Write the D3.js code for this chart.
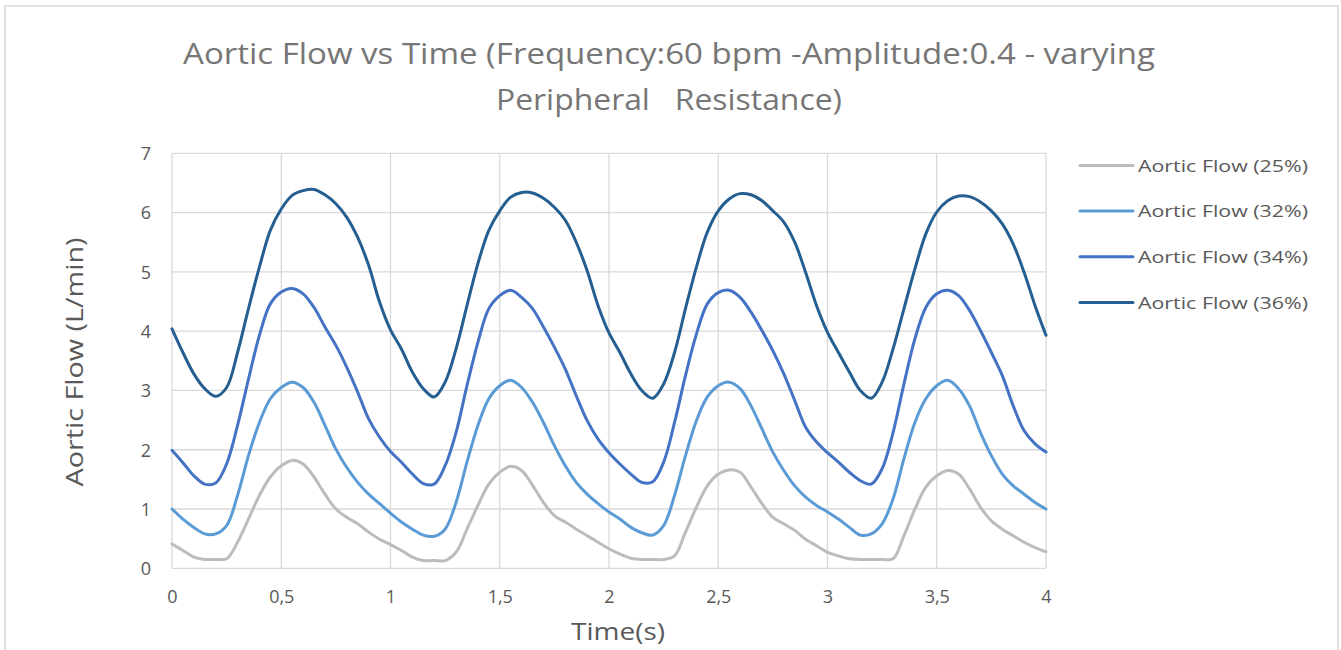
<!DOCTYPE html>
<html>
<head>
<meta charset="utf-8">
<script src="https://cdn.jsdelivr.net/npm/d3@7"></script>
<style>
  html, body { margin: 0; padding: 0; background: #ffffff; }
  svg { display: block; }
  text { font-family: "Open Sans", "Noto Sans", sans-serif; }
</style>
</head>
<body>
<div id="chart"></div>
<script>
// Sample times (s)
const time = [
  0.00,0.05,0.10,0.15,0.20,0.25,0.30,0.35,0.40,0.45,0.50,0.55,0.60,0.65,0.70,0.75,0.80,0.85,0.90,0.95,
  1.00,1.05,1.10,1.15,1.20,1.25,1.30,1.35,1.40,1.45,1.50,1.55,1.60,1.65,1.70,1.75,1.80,1.85,1.90,1.95,
  2.00,2.05,2.10,2.15,2.20,2.25,2.30,2.35,2.40,2.45,2.50,2.55,2.60,2.65,2.70,2.75,2.80,2.85,2.90,2.95,
  3.00,3.05,3.10,3.15,3.20,3.25,3.30,3.35,3.40,3.45,3.50,3.55,3.60,3.65,3.70,3.75,3.80,3.85,3.90,3.95,
  4.00
];

// Aortic flow (L/min) for each peripheral resistance setting
const flow25 = [
  0.41,0.30,0.19,0.15,0.15,0.16,0.44,0.83,1.23,1.54,1.73,1.82,1.76,1.54,1.25,1.00,0.86,0.75,0.61,0.49,
  0.40,0.30,0.19,0.13,0.13,0.13,0.27,0.66,1.06,1.42,1.62,1.72,1.65,1.40,1.11,0.89,0.78,0.66,0.55,0.44,
  0.33,0.24,0.17,0.15,0.15,0.15,0.21,0.61,1.03,1.39,1.59,1.66,1.62,1.37,1.09,0.86,0.75,0.64,0.49,0.38,
  0.27,0.21,0.16,0.15,0.15,0.15,0.16,0.55,1.00,1.37,1.56,1.65,1.59,1.34,1.03,0.80,0.66,0.55,0.44,0.35,
  0.28
];
const flow32 = [
  1.00,0.83,0.69,0.58,0.58,0.72,1.23,1.90,2.46,2.86,3.05,3.14,3.05,2.80,2.41,2.01,1.70,1.45,1.25,1.09,
  0.93,0.78,0.66,0.56,0.54,0.66,1.11,1.79,2.41,2.86,3.08,3.17,3.05,2.80,2.46,2.07,1.73,1.45,1.25,1.09,
  0.95,0.83,0.69,0.60,0.56,0.72,1.23,1.90,2.49,2.89,3.08,3.14,3.03,2.74,2.35,1.96,1.65,1.39,1.20,1.06,
  0.95,0.83,0.69,0.56,0.58,0.75,1.17,1.85,2.46,2.86,3.08,3.17,3.03,2.74,2.29,1.90,1.59,1.39,1.25,1.11,
  1.00
];
const flow34 = [
  1.99,1.78,1.56,1.42,1.44,1.76,2.41,3.19,3.93,4.46,4.66,4.72,4.63,4.40,4.07,3.76,3.39,2.97,2.52,2.21,
  1.97,1.79,1.59,1.43,1.42,1.73,2.29,3.08,3.81,4.38,4.60,4.69,4.57,4.38,4.07,3.73,3.36,2.91,2.49,2.18,
  1.95,1.76,1.59,1.45,1.46,1.79,2.46,3.25,3.95,4.46,4.65,4.69,4.57,4.32,4.01,3.67,3.28,2.83,2.38,2.13,
  1.95,1.79,1.62,1.48,1.42,1.68,2.29,3.11,3.87,4.40,4.63,4.69,4.60,4.35,4.01,3.64,3.25,2.74,2.32,2.10,
  1.96
];
const flow36 = [
  4.04,3.64,3.28,3.03,2.90,3.05,3.64,4.38,5.08,5.70,6.06,6.29,6.37,6.39,6.30,6.15,5.92,5.58,5.11,4.49,
  4.02,3.70,3.31,3.03,2.89,3.14,3.70,4.43,5.14,5.70,6.03,6.26,6.34,6.33,6.24,6.09,5.87,5.50,5.02,4.43,
  3.97,3.64,3.28,3.00,2.87,3.11,3.64,4.38,5.08,5.67,6.03,6.23,6.32,6.30,6.20,6.03,5.84,5.50,4.99,4.43,
  3.98,3.64,3.31,3.00,2.87,3.14,3.70,4.38,5.05,5.64,6.01,6.20,6.28,6.27,6.18,6.03,5.81,5.47,4.99,4.43,
  3.93
];

const seriesNames = ["Aortic Flow (25%)", "Aortic Flow (32%)", "Aortic Flow (34%)", "Aortic Flow (36%)"];
const seriesValues = [flow25, flow32, flow34, flow36];
const seriesColors = ["#bcbcbc", "#5b9bd5", "#4472c4", "#255e91"];

const xTicks = [0, 0.5, 1, 1.5, 2, 2.5, 3, 3.5, 4];
const xTickLabels = ["0", "0,5", "1", "1,5", "2", "2,5", "3", "3,5", "4"];
const yTicks = [0, 1, 2, 3, 4, 5, 6, 7];

const titleLines = ["Aortic Flow vs Time (Frequency:60 bpm -Amplitude:0.4 - varying", "Peripheral   Resistance)"];
const xTitle = "Time(s)";
const yTitle = "Aortic Flow (L/min)";

// Layout
const W = 1341, H = 650;
const plot = { left: 172, right: 1046, top: 153.3, bottom: 568.3 };

const svg = d3.select("#chart").append("svg")
  .attr("width", W).attr("height", H);

svg.append("rect").attr("width", W).attr("height", H).attr("fill", "#fff");

// Chart frame
svg.append("rect")
  .attr("x", 5).attr("y", 6).attr("width", 1333).attr("height", 660)
  .attr("fill", "none").attr("stroke", "#d9d9d9").attr("stroke-width", 1.5);

const x = d3.scaleLinear().domain([0, 4]).range([plot.left, plot.right]);
const y = d3.scaleLinear().domain([0, 7]).range([plot.bottom, plot.top]);

// Fit a text element to a given width
function fitWidth(sel, width) {
  const node = sel.node();
  const len = node.getComputedTextLength();
  if (len > 0) sel.attr("textLength", width).attr("lengthAdjust", "spacingAndGlyphs");
  return sel;
}

// Gridlines
const grid = svg.append("g").attr("stroke", "#d9d9d9").attr("stroke-width", 1.3);
grid.selectAll("line.h").data(yTicks).join("line")
  .attr("class", "h")
  .attr("x1", plot.left).attr("x2", plot.right)
  .attr("y1", d => y(d)).attr("y2", d => y(d));
grid.selectAll("line.v").data(xTicks).join("line")
  .attr("class", "v")
  .attr("x1", d => x(d)).attr("x2", d => x(d))
  .attr("y1", plot.top).attr("y2", plot.bottom);

// Axes (labels only; lines come from the grid)
const xAxis = d3.axisBottom(x).tickValues(xTicks)
  .tickFormat((d, i) => xTickLabels[i]).tickSize(0).tickPadding(0);
const gx = svg.append("g").attr("transform", `translate(0,${plot.bottom})`).call(xAxis);
gx.select(".domain").remove();
gx.selectAll("text")
  .attr("y", 35).attr("dy", null)
  .attr("fill", "#595959").style("font-size", "18px");

const yAxis = d3.axisLeft(y).tickValues(yTicks).tickFormat(d3.format("d"))
  .tickSize(0).tickPadding(0);
const gy = svg.append("g").attr("transform", `translate(${plot.left},0)`).call(yAxis);
gy.select(".domain").remove();
gy.selectAll("text")
  .attr("x", -21).attr("dy", "0.35em")
  .attr("fill", "#595959").style("font-size", "18px");

// Series lines
const line = d3.line()
  .x((d, i) => x(time[i]))
  .y(d => y(d))
  .curve(d3.curveCatmullRom.alpha(0.5));

svg.append("g").selectAll("path").data(seriesValues).join("path")
  .attr("d", d => line(d))
  .attr("fill", "none")
  .attr("stroke", (d, i) => seriesColors[i])
  .attr("stroke-width", 3)
  .attr("stroke-linejoin", "round")
  .attr("stroke-linecap", "round");

// Title
const titleWidths = [972, 346];
const titleBaselines = [64, 110];
titleLines.forEach((t, i) => {
  const el = svg.append("text")
    .attr("x", 669).attr("y", titleBaselines[i])
    .attr("text-anchor", "middle")
    .attr("fill", "#767676")
    .style("font-size", "30px")
    .style("white-space", "pre")
    .text(t);
  fitWidth(el, titleWidths[i]);
});

// Axis titles
fitWidth(svg.append("text")
  .attr("x", 618).attr("y", 640)
  .attr("text-anchor", "middle")
  .attr("fill", "#595959")
  .style("font-size", "24px")
  .text(xTitle), 94);

fitWidth(svg.append("text")
  .attr("transform", "translate(83,362) rotate(-90)")
  .attr("text-anchor", "middle")
  .attr("fill", "#595959")
  .style("font-size", "24px")
  .text(yTitle), 249);

// Legend
const legendRows = [165.5, 211, 256.7, 302.5];
const legend = svg.append("g");
seriesNames.forEach((name, i) => {
  legend.append("line")
    .attr("x1", 1080).attr("x2", 1133)
    .attr("y1", legendRows[i]).attr("y2", legendRows[i])
    .attr("stroke", seriesColors[i]).attr("stroke-width", 3)
    .attr("stroke-linecap", "round");
  fitWidth(legend.append("text")
    .attr("x", 1138).attr("y", legendRows[i] + 6)
    .attr("fill", "#595959")
    .style("font-size", "17px")
    .text(name), 170);
});
</script>
</body>
</html>
